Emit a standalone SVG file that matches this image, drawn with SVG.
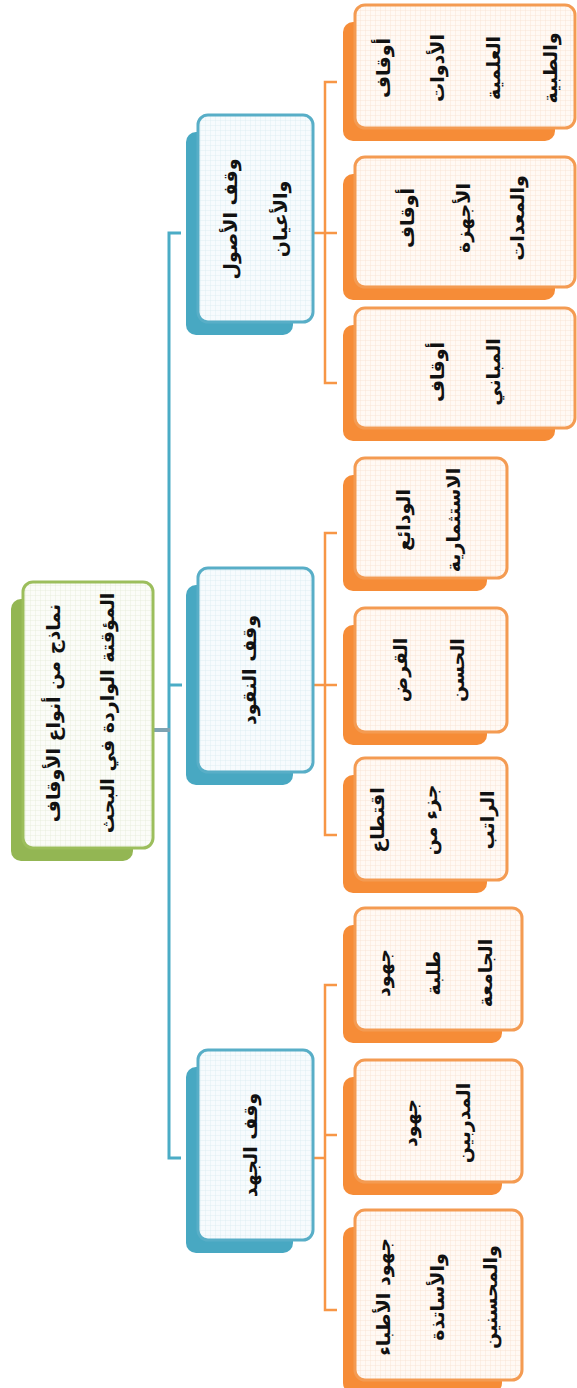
<svg xmlns="http://www.w3.org/2000/svg" width="577" height="1388" viewBox="0 0 577 1388">
<defs>
<pattern id="gO" width="5" height="5" patternUnits="userSpaceOnUse"><rect width="5" height="5" fill="#FFF9F4"/><path d="M0 0.25H5M0.25 0V5" stroke="#F8E0CC" stroke-width="0.5"/></pattern>
<pattern id="gB" width="5" height="5" patternUnits="userSpaceOnUse"><rect width="5" height="5" fill="#F7FBFD"/><path d="M0 0.25H5M0.25 0V5" stroke="#D9EAF1" stroke-width="0.5"/></pattern>
<pattern id="gG" width="5" height="5" patternUnits="userSpaceOnUse"><rect width="5" height="5" fill="#FBFCF8"/><path d="M0 0.25H5M0.25 0V5" stroke="#E2EAD4" stroke-width="0.5"/></pattern>
</defs>
<style>
.sO{fill:#F68C37}.fO{fill:url(#gO);stroke:#F49B52;stroke-width:3}
.sB{fill:#48A8C2}.fB{fill:url(#gB);stroke:#58AEC7;stroke-width:3}
.sG{fill:#93B653}.fG{fill:url(#gG);stroke:#9CBE5C;stroke-width:3}
text{font-family:"DejaVu Sans","Noto Sans",sans-serif;font-weight:bold;font-size:19px;fill:#111;text-anchor:middle;dominant-baseline:central}
.cB{fill:none;stroke:#4BACC6;stroke-width:3}
.cO{fill:none;stroke:#F79646;stroke-width:2.5}
</style>
<g id="connectors">
<path class="cB" d="M181 233H169V1158H181"/>
<path class="cB" d="M169 685H182"/>
<path d="M153 730H170" stroke="#7FA3B2" stroke-width="4"/>
<path class="cO" d="M337 82H325V383H337M313 233H337"/>
<path class="cO" d="M337 533H325V835H337M313 685H337"/>
<path class="cO" d="M337 985H325V1310H337M313 1158H325M325 1135H337"/>
</g>
<g id="root">
<rect class="sG" x="11" y="599" width="122" height="262" rx="10"/>
<rect class="fG" x="23" y="582" width="130" height="266" rx="10"/>
<text transform="translate(53 713) rotate(-90)">نماذج من أنواع الأوقاف</text>
<text transform="translate(107 713) rotate(-90)">المؤقتة الواردة في البحث</text>
</g>
<g id="l1-assets">
<rect class="sB" x="186" y="132" width="107" height="203" rx="10"/>
<rect class="fB" x="198" y="115" width="115" height="207" rx="10"/>
<text transform="translate(230 219) rotate(-90)">وقف الأصول</text>
<text transform="translate(280 219) rotate(-90)">والأعيان</text>
</g>
<g id="l1-money">
<rect class="sB" x="186" y="585" width="107" height="200" rx="10"/>
<rect class="fB" x="198" y="568" width="115" height="204" rx="10"/>
<text transform="translate(249 670) rotate(-90)">وقف النقود</text>
</g>
<g id="l1-effort">
<rect class="sB" x="186" y="1067" width="107" height="186" rx="10"/>
<rect class="fB" x="198" y="1050" width="115" height="190" rx="10"/>
<text transform="translate(250 1145) rotate(-90)">وقف الجهد</text>
</g>
<g id="leaf-t1">
<rect class="sO" x="343" y="22" width="212" height="119" rx="10"/>
<rect class="fO" x="355" y="5" width="220" height="123" rx="10"/>
<text transform="translate(383 68) rotate(-90)">أوقاف</text>
<text transform="translate(437 68) rotate(-90)">الأدوات</text>
<text transform="translate(493 68) rotate(-90)">العلمية</text>
<text transform="translate(550 68) rotate(-90)">والطبية</text>
</g>
<g id="leaf-t2">
<rect class="sO" x="343" y="174" width="212" height="126" rx="10"/>
<rect class="fO" x="355" y="157" width="220" height="130" rx="10"/>
<text transform="translate(407 218) rotate(-90)">أوقاف</text>
<text transform="translate(463 218) rotate(-90)">الأجهزة</text>
<text transform="translate(517 218) rotate(-90)">والمعدات</text>
</g>
<g id="leaf-t3">
<rect class="sO" x="343" y="325" width="212" height="116" rx="10"/>
<rect class="fO" x="355" y="308" width="220" height="120" rx="10"/>
<text transform="translate(437 372) rotate(-90)">أوقاف</text>
<text transform="translate(493 372) rotate(-90)">المباني</text>
</g>
<g id="leaf-m1">
<rect class="sO" x="343" y="475" width="144" height="116" rx="10"/>
<rect class="fO" x="355" y="458" width="152" height="120" rx="10"/>
<text transform="translate(403 520) rotate(-90)">الودائع</text>
<text transform="translate(453 520) rotate(-90)">الاستثمارية</text>
</g>
<g id="leaf-m2">
<rect class="sO" x="343" y="625" width="144" height="120" rx="10"/>
<rect class="fO" x="355" y="608" width="152" height="124" rx="10"/>
<text transform="translate(400 670) rotate(-90)">القرض</text>
<text transform="translate(457 670) rotate(-90)">الحسن</text>
</g>
<g id="leaf-m3">
<rect class="sO" x="343" y="775" width="144" height="118" rx="10"/>
<rect class="fO" x="355" y="758" width="152" height="122" rx="10"/>
<text transform="translate(377 820) rotate(-90)">اقتطاع</text>
<text transform="translate(430 820) rotate(-90)">جزء من</text>
<text transform="translate(487 820) rotate(-90)">الراتب</text>
</g>
<g id="leaf-b1">
<rect class="sO" x="343" y="925" width="159" height="118" rx="10"/>
<rect class="fO" x="355" y="908" width="167" height="122" rx="10"/>
<text transform="translate(383 973) rotate(-90)">جهود</text>
<text transform="translate(433 973) rotate(-90)">طلبة</text>
<text transform="translate(485 973) rotate(-90)">الجامعة</text>
</g>
<g id="leaf-b2">
<rect class="sO" x="343" y="1077" width="159" height="118" rx="10"/>
<rect class="fO" x="355" y="1060" width="167" height="122" rx="10"/>
<text transform="translate(410 1123) rotate(-90)">جهود</text>
<text transform="translate(463 1123) rotate(-90)">المدربين</text>
</g>
<g id="leaf-b3">
<rect class="sO" x="343" y="1227" width="159" height="166" rx="10"/>
<rect class="fO" x="355" y="1210" width="167" height="170" rx="10"/>
<text transform="translate(383 1297) rotate(-90)">جهود الأطباء</text>
<text transform="translate(437 1297) rotate(-90)">والأساتذة</text>
<text transform="translate(490 1297) rotate(-90)">والمحسنين</text>
</g>
</svg>
